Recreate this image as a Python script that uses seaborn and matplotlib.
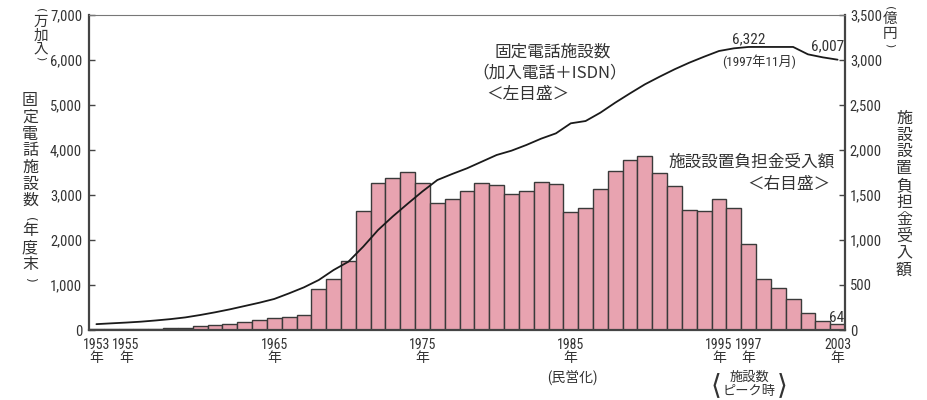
import matplotlib
matplotlib.use('Agg')
import matplotlib.pyplot as plt
from matplotlib import font_manager as fm
from matplotlib.transforms import blended_transform_factory
import seaborn as sns
import pandas as pd

# ---------------- data ----------------
years = [1953, 1954, 1955, 1956, 1957, 1958, 1959, 1960, 1961, 1962,
         1963, 1964, 1965, 1966, 1967, 1968, 1969, 1970, 1971, 1972,
         1973, 1974, 1975, 1976, 1977, 1978, 1979, 1980, 1981, 1982,
         1983, 1984, 1985, 1986, 1987, 1988, 1989, 1990, 1991, 1992,
         1993, 1994, 1995, 1996, 1997, 1998, 1999, 2000, 2001, 2002, 2003]

# 固定電話施設数 (万加入, left axis)
subscribers = [130, 148, 165, 185, 212, 242, 280, 333, 393, 459,
               533, 607, 690, 815, 948, 1111, 1333, 1518, 1852, 2222,
               2526, 2807, 3081, 3333, 3467, 3593, 3741, 3889, 3985, 4111,
               4252, 4370, 4593, 4644, 4830, 5052, 5259, 5459, 5630, 5793,
               5941, 6074, 6200, 6259, 6290, 6290, 6290, 6290, 6126, 6059, 6007]

# 施設設置負担金受入額 (億円, right axis)
fees = [10, 10, 10, 10, 10, 20, 20, 50, 60, 67,
        93, 115, 137, 148, 170, 452, 570, 763, 1319, 1630,
        1693, 1760, 1636, 1414, 1460, 1549, 1633, 1611, 1515, 1541,
        1649, 1622, 1315, 1352, 1567, 1763, 1889, 1938, 1749, 1604,
        1338, 1319, 1460, 1352, 960, 567, 463, 341, 193, 100, 64]

xtick_years = [1953, 1955, 1965, 1975, 1985, 1995, 1997, 2003]
left_ticks = [0, 1000, 2000, 3000, 4000, 5000, 6000, 7000]
right_ticks = [0, 500, 1000, 1500, 2000, 2500, 3000, 3500]

# ---------------- style ----------------
sns.set_theme(style='white')
plt.rcParams['font.family'] = ['Noto Sans CJK JP', 'DejaVu Sans']
JP = ['Noto Sans CJK JP', 'DejaVu Sans']
TXT = '#333333'
W, H = 928, 400


def pick_narrow():
    fl = fm.fontManager.ttflist
    def ok(f):
        return f.style == 'normal' and f.weight in (400, 'normal', 'regular', 'book')
    prefs = [lambda f: f.name == 'Liberation Sans Narrow',
             lambda f: f.name == 'Roboto Condensed',
             lambda f: 'Narrow' in f.name,
             lambda f: 'Condensed' in f.name and 'Sans' in f.name,
             lambda f: 'Condensed' in f.name,
             lambda f: f.name == 'DejaVu Sans' and 'ondensed' in str(f.stretch),
             lambda f: 'ondensed' in str(f.stretch)]
    for p in prefs:
        for f in fl:
            if ok(f) and p(f):
                return f.fname
    return None


_fname = pick_narrow()
NUMNAME = fm.FontProperties(fname=_fname).get_name() if _fname else 'Liberation Sans'


def numprop(size):
    if _fname:
        return fm.FontProperties(fname=_fname, size=size)
    return fm.FontProperties(family='Liberation Sans', size=size * 0.85)


fig = plt.figure(figsize=(W / 100, H / 100), dpi=100)
ax = fig.add_axes([89 / W, 70 / H, 756 / W, 315 / H])

df = pd.DataFrame({'year': years, 'fee': fees, 'subs': subscribers})

sns.barplot(data=df, x='year', y='fee', native_scale=True, width=1.0,
            color='#E8A3B0', saturation=1, edgecolor='#3a3a3a',
            linewidth=1.0, ax=ax, errorbar=None)
ax.set_xlim(1952.5, 2003.5)
ax.set_ylim(0, 3500)

ax2 = ax.twinx()
sns.lineplot(data=df, x='year', y='subs', color='#1a1a1a', linewidth=1.3, ax=ax2)
ax2.set_ylim(0, 7000)
ax2.set_xlim(1952.5, 2003.5)

# right axis (bars)
ax.yaxis.tick_right()
ax.set_yticks(right_ticks)
ax.set_yticklabels([f'{v:,}' for v in right_ticks], fontproperties=numprop(10.5), color=TXT)
ax.tick_params(axis='y', direction='in', length=4, width=1, color='#444444', pad=3.5,
               right=True, left=False)
# left axis (line)
ax2.yaxis.tick_left()
ax2.set_yticks(left_ticks)
ax2.set_yticklabels([f'{v:,}' for v in left_ticks], fontproperties=numprop(10.5), color=TXT)
ax2.tick_params(axis='y', direction='in', length=4, width=1, color='#444444', pad=5,
                left=True, right=False)

ax.set_xticks(xtick_years)
ax.set_xticklabels([str(y) for y in xtick_years], fontproperties=numprop(10), color=TXT)
ax.tick_params(axis='x', length=0, pad=6)
trans = blended_transform_factory(ax.transData, fig.transFigure)
for y in xtick_years:
    ax.text(y, 1 - 358 / H, '年', transform=trans, ha='center', va='center',
            fontsize=10, family=JP, color=TXT)

ax.set_xlabel('')
ax.set_ylabel('')
ax2.set_xlabel('')
ax2.set_ylabel('')

for s in ax.spines.values():
    s.set_visible(False)
for side in ['left', 'right', 'bottom']:
    ax2.spines[side].set_visible(True)
    ax2.spines[side].set_color('#444444')
    ax2.spines[side].set_linewidth(1.6)
ax2.spines['top'].set_visible(True)
ax2.spines['top'].set_color('#777777')
ax2.spines['top'].set_linewidth(0.8)


def ftext(x, y, s, size=12, family=JP, **kw):
    fig.text(x / W, 1 - y / H, s, fontsize=size, family=family, color=TXT,
             ha=kw.pop('ha', 'center'), va=kw.pop('va', 'center'), **kw)


def ntext(x, y, s, size):
    fig.text(x / W, 1 - y / H, s, fontproperties=numprop(size), color=TXT,
             ha='center', va='center')


def vtext(x, items, size=11.5):
    # vertical writing: one character per row, parentheses turned sideways
    for ch, y in items:
        if ch in '()':
            fig.text(x / W, 1 - y / H, ch, fontsize=size * 0.75, family=['DejaVu Sans'],
                     color=TXT, ha='center', va='center', rotation=-90)
        else:
            ftext(x, y, ch, size=size)


# vertical axis titles
vtext(41, [('(', 10), ('万', 21.5), ('加', 36), ('入', 49), (')', 58)], size=10.5)
vtext(30, [('固', 100), ('定', 117), ('電', 134), ('話', 150), ('施', 167),
           ('設', 184), ('数', 200), ('(', 219), ('年', 231), ('度', 248),
           ('末', 264), (')', 279)], size=11.5)
vtext(890, [('(', 8), ('億', 19), ('円', 34), (')', 45)], size=10.5)
vtext(904, [(c, 118 + i * 16.9) for i, c in enumerate('施設設置負担金受入額')], size=11.5)

# annotations
ftext(553, 52, '固定電話施設数', size=12)
ftext(550, 73, '（加入電話＋ISDN）', size=12)
ftext(528, 95, '＜左目盛＞', size=12)
ftext(752, 162, '施設設置負担金受入額', size=12)
ftext(789, 184, '＜右目盛＞', size=12)

ntext(749, 39, '6,322', 11)
fig.text(759 / W, 1 - 62 / H, '(1997年11月)', fontsize=9.5,
         family=[NUMNAME, 'Noto Sans CJK JP'], color=TXT, ha='center', va='center')
ntext(828, 46, '6,007', 11)
ntext(836.5, 318, '64', 11)

ftext(572, 377, '(民営化)', size=10, family=[NUMNAME, 'Noto Sans CJK JP'])
ftext(749, 377, '施設数', size=9.5, family=JP)
ftext(749, 392, 'ピーク時', size=9.5, family=JP)
ftext(716, 385, '⟨', size=20, family=['DejaVu Sans'])
ftext(782, 385, '⟩', size=20, family=['DejaVu Sans'])

fig.savefig('out.png', dpi=100)
